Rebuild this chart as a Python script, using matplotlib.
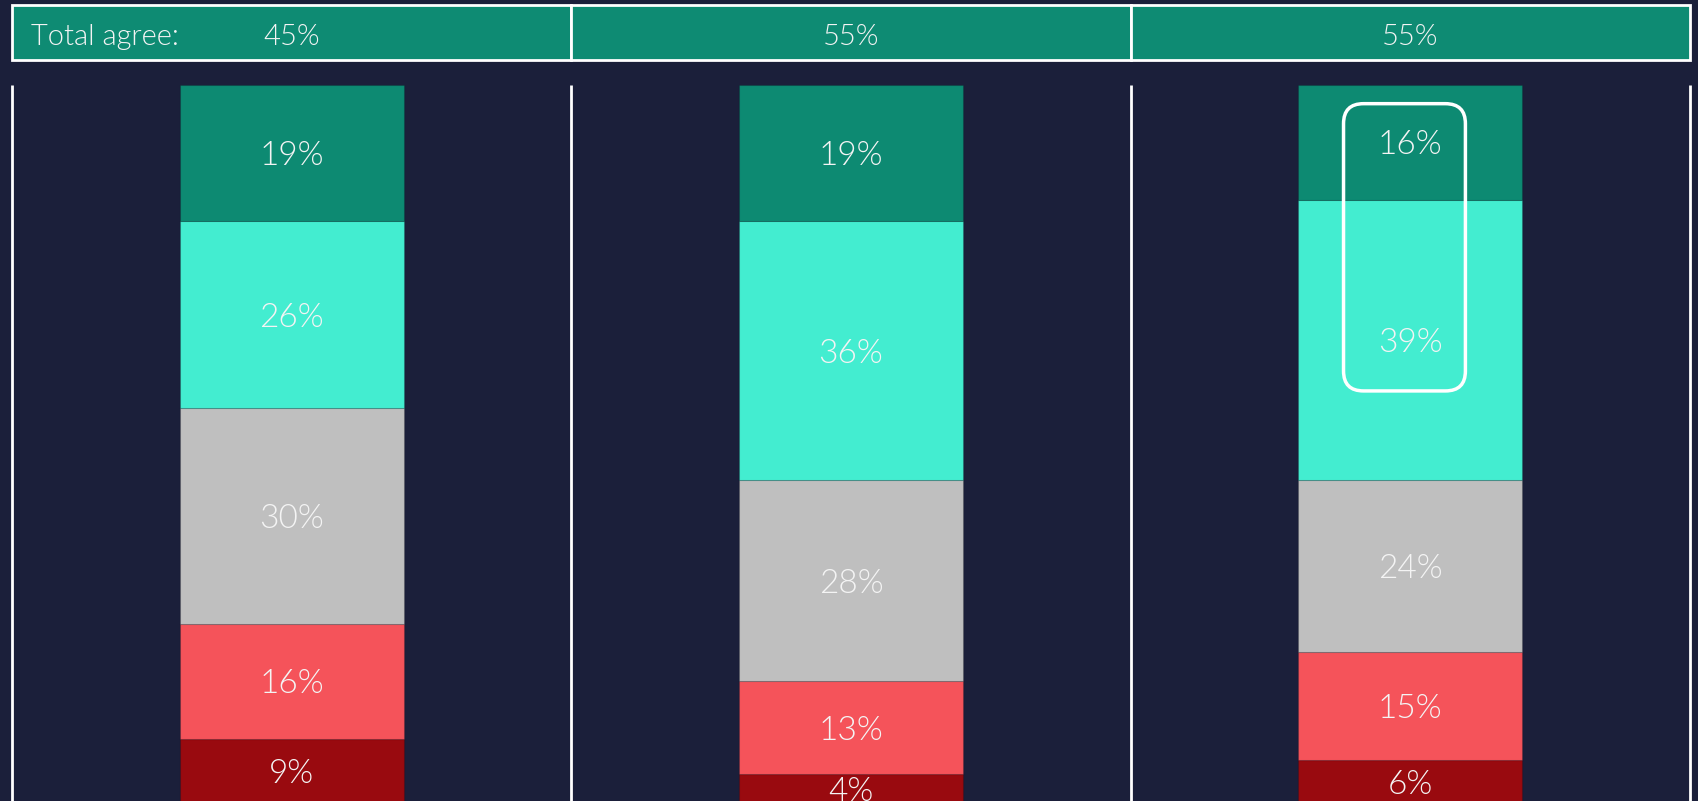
import os

import matplotlib.pyplot as plt
from matplotlib import font_manager as fm
from matplotlib.patches import Rectangle, FancyBboxPatch

plt.rcParams['font.family'] = ['Lato', 'DejaVu Sans']

LIGHT = '/usr/share/fonts/truetype/lato/Lato-Light.ttf'
if os.path.exists(LIGHT):
    def font(size):
        return fm.FontProperties(fname=LIGHT, size=size)
else:
    def font(size):
        return fm.FontProperties(family='Lato', weight='normal', size=size)

# share of answers per group, listed from the top of the stack down
strongly_agree = [19, 19, 16]
agree = [26, 36, 39]
neutral = [30, 28, 24]
disagree = [16, 13, 15]
strongly_disagree = [9, 4, 6]

segments = [strongly_disagree, disagree, neutral, agree, strongly_agree]
colors = ['#990A0F', '#F5535A', '#BFBFBF', '#43EDD0', '#0D8A72']

BG = '#1B1F3A'
TXT = '#F4F4F4'
n = len(strongly_agree)

fig = plt.figure(figsize=(16.98, 8.01), dpi=100)
fig.patch.set_facecolor(BG)

x_lo, x_hi = -0.522, 2.515
y_lo, y_hi = 0.3, 100

ax = fig.add_axes([0, 0, 1, (801 - 85) / 801])
ax.set_facecolor(BG)
ax.set_xlim(x_lo, x_hi)
ax.set_ylim(y_lo, y_hi)
ax.axis('off')

# stacked bars, bottom segment first
bottoms = [0] * n
for vals, col in zip(segments, colors):
    ax.bar(range(n), vals, width=0.4, bottom=bottoms, color=col,
           edgecolor='#00000022', linewidth=0.8, zorder=2)
    for i, v in enumerate(vals):
        ax.text(i, bottoms[i] + v / 2, f'{v}%', ha='center', va='center_baseline',
                color=TXT, fontproperties=font(24), zorder=3)
    bottoms = [b + v for b, v in zip(bottoms, vals)]

# panel separators
ax.vlines([i - 0.5 for i in range(n + 1)], y_lo, y_hi, color='white',
          linewidth=2, zorder=1)

# highlight box around the two agree segments of the last group
px_x = 1698 / (x_hi - x_lo)
px_y = 716 / (y_hi - y_lo)
top_two = strongly_agree[2] + agree[2]
box = FancyBboxPatch((1.99 - 0.109, 100 - top_two + 12.4), 0.218, top_two - 15.0,
                     boxstyle='round,pad=0,rounding_size=%f' % (20 / px_x),
                     mutation_aspect=px_x / px_y, facecolor='none',
                     edgecolor='white', linewidth=2.5, zorder=4)
ax.add_patch(box)

# header strip with the total agree figures
hx = fig.add_axes([0, 1 - 60 / 801, 1, 55 / 801])
hx.set_xlim(x_lo, x_hi)
hx.set_ylim(0, 1)
hx.axis('off')
for i in range(n):
    hx.add_patch(Rectangle((i - 0.5, 0), 1, 1, facecolor='#0E8B73',
                           edgecolor='white', linewidth=2, clip_on=False))
    total = strongly_agree[i] + agree[i]
    hx.text(i, 0.47, f'{total}%', ha='center', va='center_baseline', color=TXT,
            fontproperties=font(21))
hx.text(-0.467, 0.47, 'Total agree:', ha='left', va='center_baseline', color=TXT,
        fontproperties=font(21))

fig.savefig('out.png', dpi=100, facecolor=BG)
